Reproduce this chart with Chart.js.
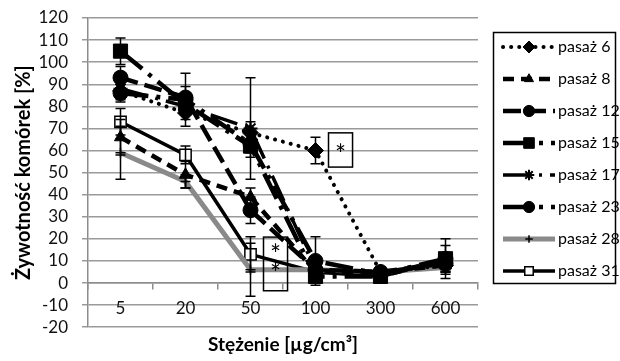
<!DOCTYPE html>
<html>
<head>
<meta charset="utf-8">
<script src="https://cdn.jsdelivr.net/npm/chart.js@4.4.1/dist/chart.umd.min.js"></script>
<style>
    html, body { margin: 0; padding: 0; background: #fff; }
    #wrap { width: 620px; height: 361px; }
</style>
</head>
<body>
<div id="wrap"><canvas id="mycanvas"></canvas></div>
<script>
// stezenie [ug/cm3] - categories on the x axis
var stezenie = ['5', '20', '50', '100', '300', '600'];

// viability [%] per passage
var pasaz6  = [87, 77, 68, 60, 5, 8];
var pasaz8  = [66, 49, 39, 5, 5, 8];
var pasaz12 = [93, 84, 33, 6, 5, 9];
var pasaz15 = [105, 81, 62, 3, 3, 11];
var pasaz17 = [88, 80, 70, 6, 5, 9];
var pasaz23 = [86, 83, 63, 10, 4, 11];
var pasaz28 = [59, 46, 6, 6, 5, 7];
var pasaz31 = [73, 58, 13, 5, 3, 10];

// standard deviations (error bars)
var sd6  = [4, 3, 5, 6, 2, 3];
var sd8  = [8, 6, 4, 3, 2, 3];
var sd12 = [5, 5, 6, 3, 2, 3];
var sd15 = [6, 4, 5, 3, 2, 9];
var sd17 = [3, 3, 23, 3, 2, 3];
var sd23 = [4, 12, 4, 11, 2, 6];
var sd28 = [12, 3, 12, 3, 2, 3];
var sd31 = [6, 4, 8, 3, 2, 3];

// significance boxes: category index range, value range, star values
var gwiazdki = [
    { x0: 3.2, x1: 3.57, y0: 52.5, y1: 68, stars: [60] },
    { x0: 2.2, x1: 2.57, y0: -3.5, y1: 20.8, stars: [14.5, 6.3] }
];

Chart.defaults.font.family = 'Lato';

var errorBars = {
    id: 'errorBars',
    afterDatasetsDraw: function(chart) {
        var ctx = chart.ctx;
        var xs = chart.scales.x, ys = chart.scales.y;
        ctx.save();
        ctx.strokeStyle = '#000';
        ctx.lineWidth = 1.5;
        chart.data.datasets.forEach(function(ds) {
            ds.data.forEach(function(v, j) {
                var e = ds.errors[j];
                var x = xs.getPixelForValue(j);
                var top = ys.getPixelForValue(v + e);
                var bot = ys.getPixelForValue(v - e);
                ctx.beginPath();
                ctx.moveTo(x, top); ctx.lineTo(x, bot);
                ctx.moveTo(x - 5, top); ctx.lineTo(x + 5, top);
                ctx.moveTo(x - 5, bot); ctx.lineTo(x + 5, bot);
                ctx.stroke();
            });
        });
        ctx.restore();
    }
};

var starBoxes = {
    id: 'starBoxes',
    afterDatasetsDraw: function(chart) {
        var ctx = chart.ctx;
        var xs = chart.scales.x, ys = chart.scales.y;
        ctx.save();
        ctx.strokeStyle = '#000';
        ctx.lineWidth = 1.5;
        ctx.fillStyle = '#000';
        ctx.font = '26px Lato';
        ctx.textAlign = 'center';
        ctx.textBaseline = 'middle';
        gwiazdki.forEach(function(b) {
            var l = xs.getPixelForValue(b.x0), r = xs.getPixelForValue(b.x1);
            var t = ys.getPixelForValue(b.y1), d = ys.getPixelForValue(b.y0);
            ctx.strokeRect(l, t, r - l, d - t);
            b.stars.forEach(function(s) {
                ctx.fillText('*', (l + r) / 2, ys.getPixelForValue(s) + 5);
            });
        });
        ctx.restore();
    }
};

var legendBox = {
    id: 'legendBox',
    afterDraw: function(chart) {
        var ctx = chart.ctx;
        ctx.save();
        ctx.strokeStyle = '#000';
        ctx.lineWidth = 1.5;
        ctx.strokeRect(493.5, 32.5, 122, 251);
        chart.data.datasets.forEach(function(ds, i) {
            var y = 47 + i * 32;
            ctx.save();
            ctx.beginPath();
            ctx.setLineDash(ds.borderDash || []);
            ctx.lineCap = ds.borderCapStyle || 'butt';
            ctx.lineWidth = ds.borderWidth;
            ctx.strokeStyle = ds.borderColor;
            ctx.moveTo(503, y); ctx.lineTo(555, y);
            ctx.stroke();
            ctx.restore();
            ctx.fillStyle = ds.pointBackgroundColor;
            ctx.strokeStyle = ds.pointBorderColor;
            ctx.lineWidth = ds.pointBorderWidth;
            Chart.helpers.drawPoint(ctx, {
                pointStyle: ds.pointStyle,
                radius: ds.pointRadius * 0.75,
                rotation: 0,
                borderWidth: ds.pointBorderWidth
            }, 529, y);
            ctx.fillStyle = '#000';
            ctx.font = '16px Lato';
            ctx.textAlign = 'left';
            ctx.textBaseline = 'middle';
            ctx.fillText(ds.label, 558, y);
        });
        ctx.restore();
    }
};

function seria(label, data, errors, style) {
    var ds = {
        label: label,
        data: data,
        errors: errors,
        fill: false,
        tension: 0,
        borderColor: '#000',
        borderWidth: 4.5,
        borderDash: [],
        borderCapStyle: 'butt',
        pointBackgroundColor: '#000',
        pointBorderColor: '#000',
        pointBorderWidth: 1,
        pointRadius: 7
    };
    for (var k in style) ds[k] = style[k];
    ds.pointHoverRadius = ds.pointRadius;
    return ds;
}

var chartdata = {
    labels: stezenie,
    datasets: [
        seria('pasaż 6', pasaz6, sd6, { borderWidth: 4, borderDash: [0.1, 8], borderCapStyle: 'round', pointStyle: 'rectRot', pointRadius: 8 }),
        seria('pasaż 8', pasaz8, sd8, { borderDash: [11, 7], pointStyle: 'triangle', pointRadius: 7 }),
        seria('pasaż 12', pasaz12, sd12, { borderDash: [18, 7], pointStyle: 'circle', pointRadius: 7.5 }),
        seria('pasaż 15', pasaz15, sd15, { borderDash: [28, 8, 4, 8], pointStyle: 'rect', pointRadius: 10 }),
        seria('pasaż 17', pasaz17, sd17, { borderWidth: 3.5, borderDash: [28, 8, 3, 8], pointStyle: 'star', pointRadius: 7, pointBorderWidth: 2 }),
        seria('pasaż 23', pasaz23, sd23, { borderDash: [28, 8, 4, 8], pointStyle: 'circle', pointRadius: 7.5 }),
        seria('pasaż 28', pasaz28, sd28, { borderColor: '#8a8a8a', borderWidth: 5, pointStyle: 'cross', pointRadius: 5, pointBorderWidth: 1.5 }),
        seria('pasaż 31', pasaz31, sd31, { borderWidth: 3.5, pointStyle: 'rect', pointRadius: 8, pointBackgroundColor: '#fff', pointBorderWidth: 1.5 })
    ]
};

var ctx = document.getElementById('mycanvas');

var lineGraph = new Chart(ctx, {
    type: 'line',
    data: chartdata,
    plugins: [errorBars, starBoxes, legendBox],
    options: {
        responsive: true,
        maintainAspectRatio: false,
        animation: false,
        layout: { padding: { left: 8, right: 142, top: 18, bottom: 5 } },
        plugins: {
            legend: { display: false },
            tooltip: { enabled: false },
            title: {
                display: true,
                position: 'bottom',
                fullSize: false,
                text: 'Stężenie [µg/cm³]',
                color: '#000',
                font: { size: 19, weight: 'bold' },
                padding: { top: 6, bottom: 0 }
            }
        },
        scales: {
            x: {
                position: { y: 0 },
                offset: true,
                grid: { offset: true, drawOnChartArea: false, drawTicks: true, tickLength: 6, color: '#8c8c8c', lineWidth: 1.5 },
                border: { color: '#8c8c8c', width: 1.5 },
                ticks: { padding: 9, color: '#111', font: { size: 17 } }
            },
            y: {
                min: -20,
                max: 120,
                ticks: { stepSize: 10, autoSkip: false, padding: 14, color: '#111', font: { size: 17 } },
                grid: { color: '#9a9a9a', lineWidth: 1.5, tickLength: 6 },
                border: { color: '#8c8c8c', width: 1.5 },
                title: {
                    display: true,
                    text: 'Żywotność komórek [%]',
                    color: '#000',
                    font: { size: 20, weight: 'bold' },
                    padding: { top: 4, bottom: 4 }
                },
                afterFit: function(s) { s.width = 80; s.paddingTop = 0; }
            }
        }
    }
});
</script>
</body>
</html>
